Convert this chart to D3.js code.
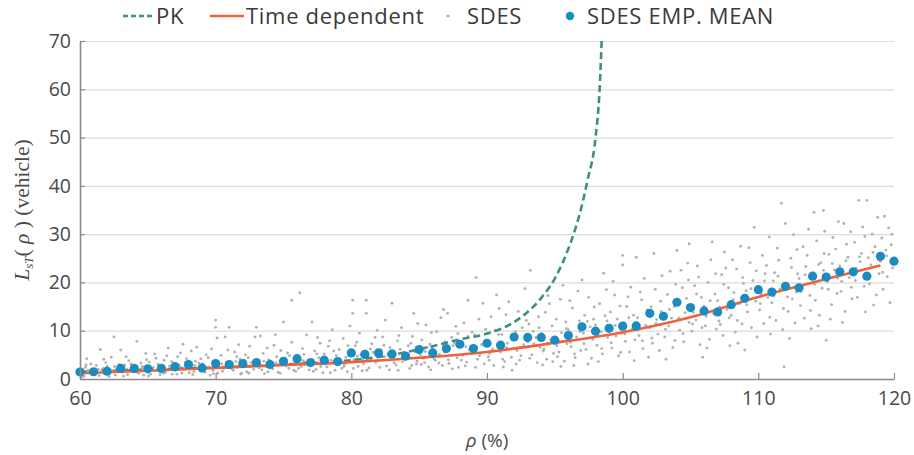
<!DOCTYPE html>
<html>
<head>
<meta charset="utf-8">
<script src="https://cdn.jsdelivr.net/npm/d3@7"></script>
<style>
  body { margin: 0; background: #fff; }
  svg { display: block; }
</style>
</head>
<body>
<script>
// values
var xTicks = [60, 70, 80, 90, 100, 110, 120];
var yTicks = [0, 10, 20, 30, 40, 50, 60, 70];

// PK curve (rho %, vehicles)
var pkRho = [60, 65, 70, 75, 80, 83, 86, 88, 90, 92, 94, 95, 96, 96.5, 97, 97.4, 98, 98.3, 98.45];
var pkL   = [1.5, 1.9, 2.4, 3.0, 3.9, 5.0, 6.8, 8.2, 9.4, 11.8, 16.8, 20.8, 27, 31, 36, 41, 50, 60, 70];

// time dependent curve
var tdRho = [60, 65, 70, 75, 80, 85, 90, 95, 100, 105, 110, 115, 119];
var tdL   = [1.2, 1.7, 2.3, 2.9, 3.5, 4.4, 5.6, 7.5, 9.7, 12.8, 17.0, 20.7, 23.5];

// SDES empirical mean, one per percent 60..120
var meanRho = d3.range(60, 121);
var meanL = [1.45, 1.5, 1.6, 2.2, 2.2, 2.1, 2.2, 2.55, 3.0, 2.3,
             3.2, 3.0, 3.2, 3.4, 3.0, 3.65, 4.2, 3.4, 3.9, 3.6,
             5.4, 5.1, 5.4, 5.2, 4.75, 6.1, 5.4, 6.3, 7.2, 6.3,
             7.4, 7.0, 8.7, 8.6, 8.6, 8.05, 9.0, 10.8, 9.9, 10.5,
             10.95, 11.0, 13.6, 13.0, 15.9, 14.8, 14.1, 13.9, 15.4, 16.7,
             18.5, 18.0, 19.2, 18.9, 21.3, 21.1, 22.2, 22.2, 21.3, 25.4, 24.4];

// SDES samples [rho, L]
var sdes = [
[60.1,1.2],[60.3,0.6],[60.4,2.4],[60.6,1.8],[60.8,3.1],[60.9,0.9],[60.5,4.2],[60.2,2.0],
[61.1,1.5],[61.2,2.8],[61.4,0.7],[61.5,6.1],[61.7,2.2],[61.8,1.1],[61.9,3.4],[61.6,1.9],
[62.0,2.6],[62.2,1.3],[62.3,4.5],[62.5,8.7],[62.6,0.8],[62.7,2.1],[62.9,3.0],[62.4,1.7],
[63.0,6.0],[63.1,1.4],[63.3,2.9],[63.5,0.9],[63.6,3.8],[63.8,2.3],[63.9,1.6],[63.4,4.6],
[64.0,2.0],[64.2,7.8],[64.3,1.2],[64.5,3.3],[64.6,2.6],[64.7,0.8],[64.9,4.0],[64.4,1.9],
[65.1,3.5],[65.2,1.0],[65.4,2.4],[65.5,5.2],[65.7,1.7],[65.8,2.9],[65.9,0.9],[65.6,4.3],
[66.0,2.2],[66.2,3.9],[66.3,1.4],[66.5,6.4],[66.6,2.7],[66.8,1.0],[66.9,3.2],[66.4,4.8],
[67.0,1.8],[67.2,4.6],[67.3,2.9],[67.5,1.2],[67.6,7.2],[67.8,3.5],[67.9,2.2],[67.4,5.4],
[68.1,2.6],[68.2,5.8],[68.4,1.5],[68.5,3.7],[68.6,6.6],[68.8,2.1],[68.9,4.2],[68.3,0.9],
[69.0,3.1],[69.2,1.4],[69.3,5.0],[69.5,2.5],[69.7,6.2],[69.8,1.8],[69.9,3.8],[69.6,0.8],
[70.0,12.2],[70.0,10.7],[70.1,8.5],[70.2,2.8],[70.4,4.9],[70.5,1.6],[70.7,8.7],[70.8,3.5],[70.9,6.0],[70.6,2.2],
[71.0,10.7],[71.1,3.0],[71.3,1.8],[71.4,5.6],[71.6,2.4],[71.7,7.1],[71.8,4.1],[71.9,1.2],[71.5,3.6],
[72.0,2.7],[72.2,5.0],[72.3,1.5],[72.5,6.8],[72.6,3.4],[72.8,2.0],[72.9,8.7],[72.4,4.4],
[73.0,10.7],[73.1,3.2],[73.3,8.9],[73.4,1.9],[73.5,5.3],[73.7,2.6],[73.8,6.4],[73.9,4.0],[73.6,1.1],
[74.0,3.8],[74.2,2.1],[74.3,7.0],[74.5,4.6],[74.6,1.4],[74.8,5.9],[74.9,2.9],[74.4,9.2],
[75.0,11.8],[75.1,3.3],[75.3,5.4],[75.4,2.2],[75.6,16.3],[75.6,7.6],[75.8,4.2],[75.9,1.6],[75.5,3.0],
[76.0,4.6],[76.2,17.8],[76.3,2.6],[76.4,6.3],[76.6,3.5],[76.7,9.1],[76.9,1.9],[76.5,5.1],
[77.0,3.0],[77.1,11.8],[77.3,5.8],[77.4,2.0],[77.6,4.4],[77.7,7.4],[77.8,3.7],[77.9,1.3],[77.5,8.6],
[78.0,5.2],[78.2,2.5],[78.3,6.8],[78.5,3.9],[78.6,10.2],[78.8,1.8],[78.9,4.8],[78.4,7.9],
[79.0,3.3],[79.1,6.1],[79.3,2.2],[79.4,8.4],[79.6,4.5],[79.7,1.5],[79.8,5.6],[79.9,11.0],[79.5,3.0],
[80.1,13.6],[80.1,16.3],[80.2,4.0],[80.3,6.9],[80.5,2.6],[80.6,9.5],[80.7,5.0],[80.9,3.2],[80.4,7.6],[80.8,1.7],
[81.1,16.3],[81.1,13.6],[81.2,4.6],[81.3,2.3],[81.5,7.3],[81.6,5.5],[81.8,3.4],[81.9,10.1],[81.4,6.2],
[82.0,3.8],[82.2,6.0],[82.3,8.7],[82.5,12.2],[82.6,2.7],[82.7,5.2],[82.9,4.2],[82.4,7.0],[82.8,1.9],
[83.0,15.7],[83.1,4.9],[83.3,2.9],[83.4,7.9],[83.6,6.1],[83.7,10.6],[83.8,3.6],[83.9,5.4],[83.5,9.0],
[84.0,4.1],[84.2,6.9],[84.3,2.2],[84.5,8.8],[84.6,13.6],[84.7,5.6],[84.8,3.1],[84.9,11.5],[84.4,7.4],
[85.1,5.0],[85.2,8.1],[85.4,3.4],[85.5,11.2],[85.6,6.6],[85.7,2.5],[85.9,9.6],[85.3,4.3],[85.8,7.2],
[86.0,6.3],[86.2,3.9],[86.3,9.8],[86.5,5.1],[86.6,12.7],[86.7,2.8],[86.9,7.7],[86.4,4.6],[86.8,14.4],
[87.0,5.8],[87.1,13.6],[87.2,3.2],[87.4,8.6],[87.5,6.9],[87.7,10.9],[87.8,4.4],[87.9,2.4],[87.6,7.5],
[88.0,7.4],[88.2,4.9],[88.3,11.6],[88.5,3.5],[88.6,16.3],[88.6,8.8],[88.7,6.0],[88.9,9.7],[88.4,2.7],
[89.0,6.4],[89.2,21.0],[89.1,9.1],[89.3,4.1],[89.4,12.4],[89.6,7.1],[89.7,15.7],[89.8,3.1],[89.9,10.3],[89.5,5.3],
[90.0,8.0],[90.1,4.6],[90.3,12.9],[90.4,6.2],[90.5,2.8],[90.6,10.1],[90.8,7.0],[90.9,14.6],[90.2,5.3],[90.7,17.4],
[91.0,5.6],[91.1,9.2],[91.3,3.6],[91.4,13.3],[91.5,7.4],[91.7,11.3],[91.8,4.5],[91.9,8.4],[91.6,16.0],[91.2,2.5],
[92.0,8.9],[92.2,5.9],[92.3,14.0],[92.4,3.9],[92.6,10.6],[92.7,7.1],[92.8,18.7],[92.9,12.1],[92.5,4.8],[92.1,9.8],
[93.0,7.7],[93.2,22.5],[93.1,11.4],[93.3,5.0],[93.5,15.2],[93.6,8.6],[93.7,3.4],[93.8,12.9],[93.9,6.6],[93.4,9.9],
[94.0,9.4],[94.2,6.2],[94.3,13.8],[94.4,4.1],[94.5,17.3],[94.7,8.1],[94.8,11.0],[94.9,5.3],[94.6,15.6],[94.1,2.9],
[95.0,8.4],[95.1,12.4],[95.3,5.6],[95.4,16.5],[95.5,9.6],[95.7,3.7],[95.8,11.8],[95.9,7.3],[95.6,19.4],[95.2,4.6],
[96.0,10.2],[96.2,6.7],[96.3,14.7],[96.5,4.4],[96.6,8.7],[96.7,18.2],[96.8,12.0],[96.9,5.9],[96.4,2.8],[96.1,16.2],
[97.0,20.5],[97.1,9.5],[97.2,13.2],[97.3,6.1],[97.5,16.9],[97.6,10.8],[97.7,4.3],[97.8,8.2],[97.9,14.9],[97.4,11.9],
[98.0,11.2],[98.1,7.0],[98.3,15.6],[98.4,9.8],[98.6,21.9],[98.5,5.2],[98.7,13.1],[98.8,18.5],[98.9,8.6],[98.2,3.6],
[99.0,10.0],[99.1,13.9],[99.2,6.4],[99.4,17.4],[99.5,8.9],[99.6,12.4],[99.7,4.8],[99.8,15.1],[99.9,9.4],[99.3,20.2],
[100.0,25.6],[100.0,23.6],[100.1,11.6],[100.2,7.8],[100.3,15.0],[100.5,5.6],[100.6,19.0],[100.7,10.3],[100.8,13.2],[100.9,8.1],[100.4,17.0],
[101.0,25.2],[101.1,12.7],[101.2,9.0],[101.4,16.4],[101.5,6.3],[101.6,20.8],[101.7,11.1],[101.8,14.3],[101.9,4.5],[101.3,18.0],
[102.0,10.6],[102.1,14.9],[102.3,26.0],[102.2,7.4],[102.4,18.6],[102.5,12.3],[102.7,5.9],[102.8,16.1],[102.9,21.4],[102.6,9.3],
[103.0,13.4],[103.1,8.7],[103.3,17.5],[103.4,11.0],[103.5,22.3],[103.7,6.5],[103.8,15.0],[103.9,19.6],[103.6,12.6],[103.2,4.1],
[104.0,26.6],[104.3,22.5],[104.1,15.8],[104.2,10.1],[104.4,18.9],[104.5,7.7],[104.6,13.7],[104.8,24.0],[104.9,11.7],[104.7,16.7],
[104.9,28.0],[105.0,14.6],[105.1,9.9],[105.3,19.3],[105.4,12.2],[105.5,23.4],[105.7,7.1],[105.8,16.9],[105.9,4.5],[105.6,21.1],[105.2,13.8],
[106.0,15.1],[106.1,11.0],[106.3,20.0],[106.4,8.2],[106.5,24.7],[106.7,13.5],[106.8,17.6],[106.9,10.3],[106.6,28.4],[106.2,6.4],
[107.0,16.2],[107.1,12.0],[107.3,21.6],[107.4,9.0],[107.5,26.3],[107.7,14.4],[107.8,18.9],[107.9,6.9],[107.6,23.0],[107.2,11.3],
[108.0,13.2],[108.2,17.9],[108.3,9.7],[108.4,22.8],[108.6,15.6],[108.7,27.5],[108.8,11.4],[108.9,19.8],[108.5,7.4],[108.1,24.7],
[109.0,6.0],[109.1,18.3],[109.2,13.9],[109.4,24.1],[109.5,10.6],[109.6,20.4],[109.7,31.4],[109.8,16.1],[109.9,8.7],[109.3,27.2],
[110.0,19.0],[110.1,14.3],[110.3,25.6],[110.4,11.5],[110.5,21.8],[110.7,16.9],[110.8,29.4],[110.9,9.3],[110.6,23.5],[110.2,17.7],
[111.0,15.8],[111.2,22.0],[111.3,12.1],[111.4,27.1],[111.6,18.6],[111.7,36.4],[111.8,10.2],[111.9,2.5],[111.5,24.6],[111.1,20.3],
[112.0,32.2],[112.1,19.7],[112.2,14.0],[112.4,25.0],[112.5,16.6],[112.6,29.9],[112.7,11.6],[112.9,21.8],[112.3,8.4],[112.8,18.0],
[113.0,20.8],[113.1,15.2],[113.3,27.4],[113.4,12.6],[113.5,23.3],[113.7,31.0],[113.8,17.3],[113.9,10.4],[113.6,25.6],[113.2,19.1],
[114.1,34.5],[114.0,21.4],[114.2,16.3],[114.3,28.6],[114.5,13.2],[114.6,24.1],[114.7,18.8],[114.9,30.6],[114.4,11.0],[114.8,22.5],
[114.8,34.9],[115.0,8.0],[115.1,20.2],[115.2,25.8],[115.4,15.4],[115.5,29.3],[115.6,22.6],[115.8,17.7],[115.9,32.6],[115.3,12.4],[115.7,26.9],
[116.0,23.4],[116.1,18.1],[116.3,32.2],[116.4,14.0],[116.5,27.9],[116.7,21.0],[116.8,30.5],[116.9,16.6],[116.6,25.2],[116.2,11.7],
[117.0,21.6],[117.1,28.3],[117.3,16.9],[117.4,37.0],[117.5,24.3],[117.7,31.5],[117.8,19.2],[117.9,13.9],[117.6,26.0],[117.2,22.9],
[118.0,37.0],[118.1,25.1],[118.2,19.7],[118.4,30.0],[118.5,15.3],[118.6,27.4],[118.8,33.5],[118.9,21.8],[118.3,23.6],[118.7,17.4],
[119.0,24.4],[119.1,29.2],[119.3,33.7],[119.2,18.6],[119.4,26.7],[119.5,21.2],[119.6,31.3],[119.7,15.8],[119.8,27.8],[119.9,23.0],
[60.15,0.4],[60.7,1.5],[60.45,2.9],[61.05,0.9],[61.35,2.0],[61.75,4.1],[62.15,0.5],[62.55,2.6],[62.85,1.5],
[63.2,0.6],[63.45,2.0],[63.75,3.1],[64.15,1.5],[64.55,2.2],[64.85,5.3],[65.05,0.6],[65.35,1.9],[65.75,3.0],
[66.15,1.2],[66.45,2.0],[66.75,3.6],[67.15,1.0],[67.45,2.4],[67.85,4.2],[68.05,1.3],[68.45,2.8],[68.75,3.3],
[69.1,2.2],[69.45,4.4],[69.85,1.1],[70.15,1.2],[70.45,3.1],[70.85,2.5],[71.2,2.1],[71.55,4.6],[71.85,1.0],
[72.1,3.9],[72.45,1.2],[72.75,2.9],[73.2,2.3],[73.55,3.7],[73.85,1.5],[74.1,2.6],[74.45,3.3],[74.75,1.2],
[75.2,2.7],[75.45,4.8],[75.75,1.8],[76.1,2.2],[76.45,3.8],[76.8,2.9],[77.2,1.6],[77.45,5.2],[77.75,2.6],
[78.1,3.1],[78.45,1.3],[78.7,5.8],[79.2,3.8],[79.45,2.6],[79.75,6.9],[80.15,2.2],[80.45,4.7],[80.85,3.9],
[81.15,1.8],[81.45,3.9],[81.75,8.6],[82.1,2.4],[82.45,4.6],[82.85,6.5],[83.15,3.4],[83.45,1.8],[83.75,4.4],
[84.1,5.2],[84.45,2.8],[84.85,3.7],[85.15,3.0],[85.45,5.7],[85.85,1.9],[86.1,4.2],[86.45,3.3],[86.85,5.6],
[87.15,4.0],[87.45,2.1],[87.85,9.4],[88.1,3.9],[88.45,6.7],[88.85,5.2],[89.15,2.4],[89.45,4.8],[89.85,7.9],
[90.15,3.9],[90.45,5.8],[90.85,9.2],[91.15,4.1],[91.45,6.5],[91.85,1.8],[92.15,3.1],[92.45,6.6],[92.85,8.0],
[93.15,4.3],[93.45,7.3],[93.85,10.6],[94.15,5.8],[94.45,7.4],[94.85,3.6],[95.15,6.9],[95.45,2.6],[95.85,10.4],
[96.15,7.6],[96.45,5.2],[96.85,9.8],[97.15,7.3],[97.45,3.1],[97.85,12.4],[98.15,9.1],[98.45,6.3],[98.85,12.0],
[99.15,7.5],[99.45,11.1],[99.85,5.5],[100.15,9.3],[100.45,12.7],[100.85,3.8],[101.15,10.2],[101.45,7.9],[101.85,13.4],
[102.15,8.5],[102.45,11.5],[102.85,14.0],[103.15,10.3],[103.45,14.4],[103.85,8.0],[104.15,12.6],[104.45,9.4],[104.85,20.5],
[105.15,11.4],[105.45,17.6],[105.85,10.6],[106.15,13.0],[106.45,16.2],[106.85,21.8],[107.15,14.9],[107.45,19.6],[107.85,12.7],
[108.15,16.4],[108.45,12.1],[108.85,21.0],[109.15,15.4],[109.45,18.7],[109.85,22.4],[110.15,15.6],[110.45,20.3],[110.85,12.8],
[111.15,17.2],[111.45,21.3],[111.85,14.6],[112.15,17.0],[112.45,23.1],[112.85,26.8],[113.15,18.1],[113.45,21.6],[113.85,14.2],
[114.15,19.6],[114.45,23.7],[114.85,26.0],[115.15,18.6],[115.45,23.9],[115.85,20.9],[116.15,20.2],[116.45,24.5],[116.85,19.0],
[117.15,20.4],[117.45,25.3],[117.85,29.5],[118.15,21.0],[118.45,26.2],[118.85,24.7],[119.15,22.1],[119.45,25.5],[119.85,30.0]
];

function init() {
    var width = 914, height = 455;
    var mLeft = 80, mRight = 894, mTop = 41, mBottom = 379;
    var sans = "'Open Sans', 'Noto Sans', sans-serif";
    var serif = "'Liberation Serif', 'DejaVu Serif', serif";

    var svg = d3.select('body').append('svg').attr('width', width).attr('height', height);

    var x = d3.scaleLinear().domain([60, 120]).range([mLeft, mRight]);
    var y = d3.scaleLinear().domain([0, 70]).range([mBottom, mTop]);

    // gridlines
    svg.append('g')
        .attr('transform', 'translate(' + mLeft + ',0)')
        .call(d3.axisLeft(y).tickValues(yTicks.slice(1)).tickSize(-(mRight - mLeft)).tickFormat(''))
        .call(function(g) {
            g.select('.domain').remove();
            g.selectAll('line').attr('stroke', '#dcdcdc').attr('stroke-width', 1.2);
        });

    // scatter
    svg.append('g').selectAll('circle')
        .data(sdes).enter().append('circle')
        .attr('cx', function(d) { return x(d[0]); })
        .attr('cy', function(d) { return y(d[1]); })
        .attr('r', 1.45)
        .style('fill', '#b2b2b2');

    var pkData = pkRho.map(function(r, i) { return [r, pkL[i]]; });
    var tdData = tdRho.map(function(r, i) { return [r, tdL[i]]; });

    var line = d3.line()
        .x(function(d) { return x(d[0]); })
        .y(function(d) { return y(d[1]); })
        .curve(d3.curveMonotoneX);

    svg.append('path').datum(pkData)
        .attr('d', line)
        .attr('fill', 'none')
        .attr('stroke', '#3f8f7e')
        .attr('stroke-width', 2.6)
        .attr('stroke-dasharray', '7,4');

    svg.append('path').datum(tdData)
        .attr('d', line)
        .attr('fill', 'none')
        .attr('stroke', '#f2603c')
        .attr('stroke-width', 2.6);

    // empirical means
    svg.append('g').selectAll('circle')
        .data(meanRho).enter().append('circle')
        .attr('cx', function(d) { return x(d); })
        .attr('cy', function(d, i) { return y(meanL[i]); })
        .attr('r', 4.6)
        .style('fill', '#1a8cbf');

    // axes
    var yAxis = svg.append('g')
        .attr('transform', 'translate(' + mLeft + ',0)')
        .call(d3.axisLeft(y).tickValues(yTicks).tickSizeInner(-5).tickSizeOuter(0).tickPadding(9));
    var xAxis = svg.append('g')
        .attr('transform', 'translate(0,' + mBottom + ')')
        .call(d3.axisBottom(x).tickValues(xTicks).tickSizeInner(-6).tickSizeOuter(0).tickPadding(12));

    [yAxis, xAxis].forEach(function(g) {
        g.select('.domain').attr('stroke', '#8a8a8a').attr('stroke-width', 1.6);
        g.selectAll('.tick line').attr('stroke', '#8a8a8a').attr('stroke-width', 1.2);
        g.selectAll('.tick text')
            .style('font-family', sans)
            .style('font-size', '19.5px')
            .attr('fill', '#4a4a4a');
    });

    // axis titles
    var xt = svg.append('text')
        .attr('x', (mLeft + mRight) / 2)
        .attr('y', 447)
        .attr('text-anchor', 'middle')
        .style('font-family', sans)
        .style('font-size', '19px')
        .attr('fill', '#4a4a4a');
    xt.append('tspan').text('ρ').style('font-style', 'italic');
    xt.append('tspan').text(' (%)');

    var yt = svg.append('text')
        .attr('transform', 'translate(29,' + ((mTop + mBottom) / 2) + ') rotate(-90)')
        .attr('text-anchor', 'middle')
        .style('font-family', serif)
        .style('font-size', '21.5px')
        .attr('fill', '#4a4a4a');
    yt.append('tspan').text('L').style('font-style', 'italic');
    yt.append('tspan').text('sT').style('font-style', 'italic').style('font-size', '13px').attr('dy', 4);
    yt.append('tspan').text('( ').attr('dy', -4);
    yt.append('tspan').text('ρ').style('font-style', 'italic');
    yt.append('tspan').text(' ) (vehicle)');

    // legend
    var leg = svg.append('g').style('font-family', sans).style('font-size', '22px')
        .style('letter-spacing', '0.7px').attr('fill', '#3a3a3a');
    leg.append('line').attr('x1', 123).attr('x2', 152).attr('y1', 16).attr('y2', 16)
        .attr('stroke', '#3f8f7e').attr('stroke-width', 2.6).attr('stroke-dasharray', '5,3');
    leg.append('text').attr('x', 156).attr('y', 24).text('PK');
    leg.append('line').attr('x1', 210).attr('x2', 244).attr('y1', 16).attr('y2', 16)
        .attr('stroke', '#f2603c').attr('stroke-width', 2.6);
    leg.append('text').attr('x', 246).attr('y', 24).text('Time dependent');
    leg.append('circle').attr('cx', 448).attr('cy', 16).attr('r', 1.6).style('fill', '#b2b2b2');
    leg.append('text').attr('x', 467).attr('y', 24).text('SDES');
    leg.append('circle').attr('cx', 570).attr('cy', 16).attr('r', 4.2).style('fill', '#1a8cbf');
    leg.append('text').attr('x', 587).attr('y', 24).text('SDES EMP. MEAN');
}

init();
</script>
</body>
</html>
